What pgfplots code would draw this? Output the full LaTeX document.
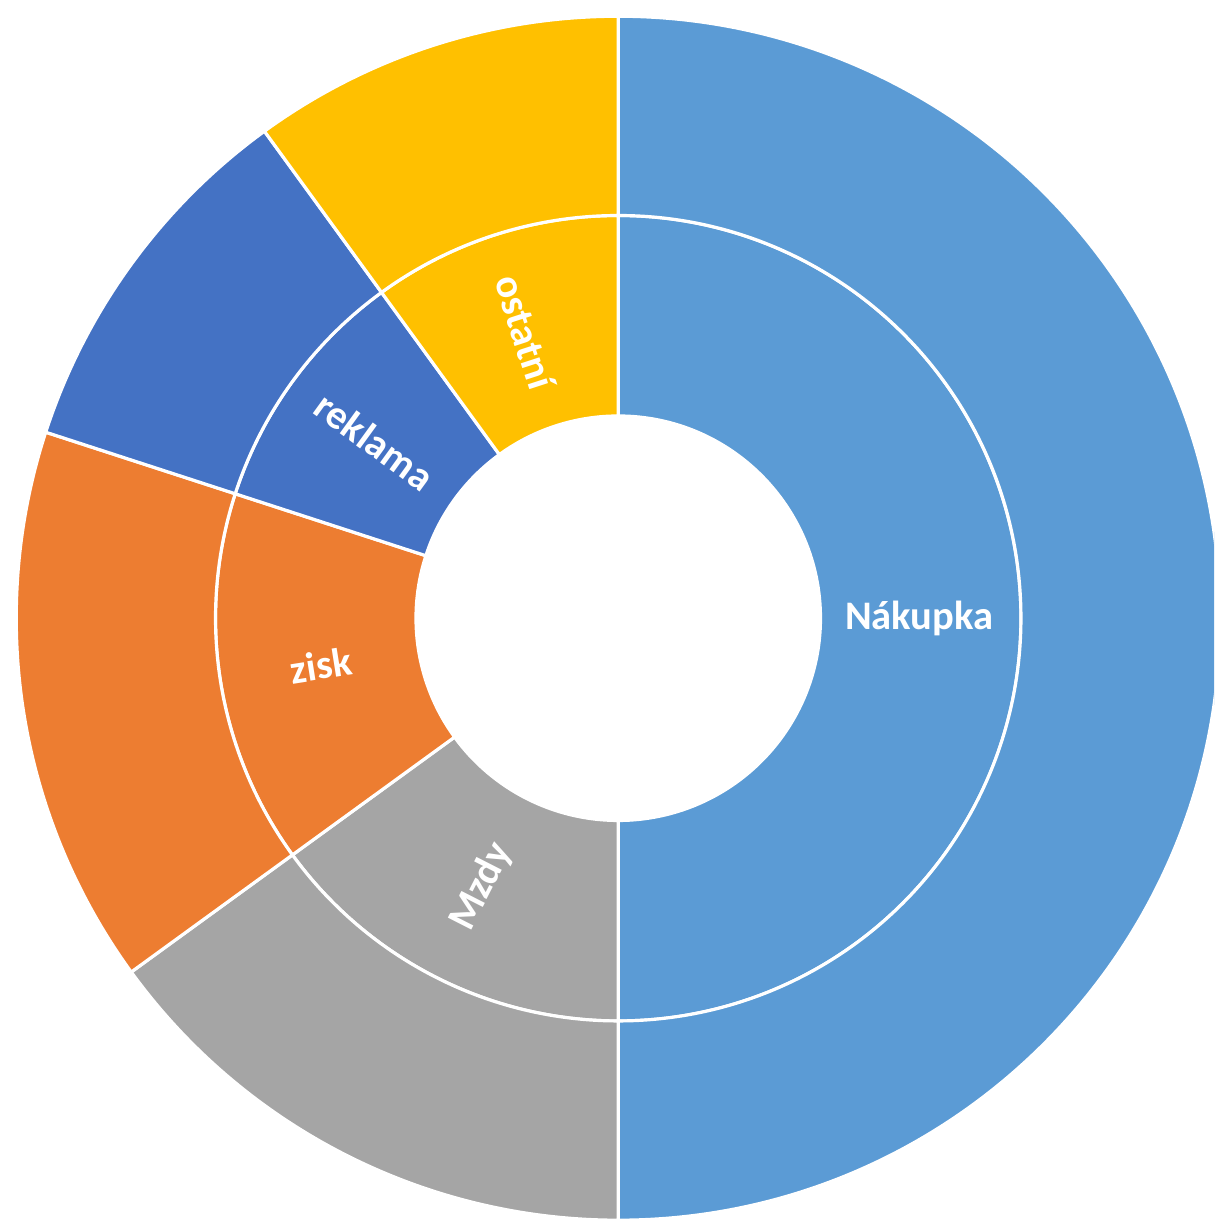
\documentclass[border=0pt]{standalone}
\usepackage{fontspec}
\setmainfont{Carlito}
\usepackage{pgfplots}
\usepackage{pgfplotstable}
\pgfplotsset{compat=1.18}
\definecolor{cNak}{HTML}{5B9BD5}
\definecolor{cMzdy}{HTML}{A5A5A5}
\definecolor{cZisk}{HTML}{ED7D31}
\definecolor{cRekl}{HTML}{4472C4}
\definecolor{cOst}{HTML}{FFC000}
\pgfplotstableread{
name value col
Nákupka 50 cNak
Mzdy 15 cMzdy
zisk 15 cZisk
reklama 10 cRekl
ostatní 10 cOst
}\data
\begin{document}
\begin{tikzpicture}
\begin{axis}[
  x=6cm, y=6cm,
  xmin=-1.027, xmax=0.990,
  ymin=-0.998, ymax=1.027,
  hide axis,
  clip=true,
]
\addplot[draw=none] coordinates {(0,0)};
\pgfplotstablegetrowsof{\data}
\pgfmathtruncatemacro\N{\pgfplotsretval-1}
\def\startang{90}
\def\rA{0.336}
\def\rB{0.669}
\def\rC{1.0}
\pgfplotsforeachungrouped \i in {0,...,\N}{%
  \pgfplotstablegetelem{\i}{value}\of\data \let\val\pgfplotsretval
  \pgfplotstablegetelem{\i}{col}\of\data \let\col\pgfplotsretval
  \pgfplotstablegetelem{\i}{name}\of\data \let\nm\pgfplotsretval
  \pgfmathsetmacro\endang{\startang-3.6*\val}%
  \pgfmathsetmacro\midang{(\startang+\endang)/2}%
  \pgfmathsetmacro\rot{cos(\midang)>=0 ? \midang : \midang-180}%
  \pgfmathsetmacro\xa{\rA*cos(\startang)}\pgfmathsetmacro\ya{\rA*sin(\startang)}%
  \pgfmathsetmacro\xb{\rB*cos(\endang)}\pgfmathsetmacro\yb{\rB*sin(\endang)}%
  \pgfmathsetmacro\xc{\rB*cos(\startang)}\pgfmathsetmacro\yc{\rB*sin(\startang)}%
  \pgfmathsetmacro\xd{\rC*cos(\endang)}\pgfmathsetmacro\yd{\rC*sin(\endang)}%
  \pgfmathsetmacro\xl{0.5*cos(\midang)}\pgfmathsetmacro\yl{0.5*sin(\midang)}%
  \edef\cmd{%
    \noexpand\fill[\col,draw=white,line width=0.9pt] (axis cs:\xa,\ya) arc[start angle=\startang, end angle=\endang, radius=\rA*6cm] -- (axis cs:\xb,\yb) arc[start angle=\endang, end angle=\startang, radius=\rB*6cm] -- cycle;
    \noexpand\fill[\col,draw=white,line width=0.9pt] (axis cs:\xc,\yc) arc[start angle=\startang, end angle=\endang, radius=\rB*6cm] -- (axis cs:\xd,\yd) arc[start angle=\endang, end angle=\startang, radius=\rC*6cm] -- cycle;
    \noexpand\node[text=white, font=\noexpand\bfseries\noexpand\fontsize{11.5}{13}\noexpand\selectfont, rotate=\rot] at (axis cs:\xl,\yl) {\nm};
  }%
  \cmd
  \let\startang\endang
}
\end{axis}
\pgfresetboundingbox
\useasboundingbox (current axis.south west) rectangle (current axis.north east);
\end{tikzpicture}
\end{document}
